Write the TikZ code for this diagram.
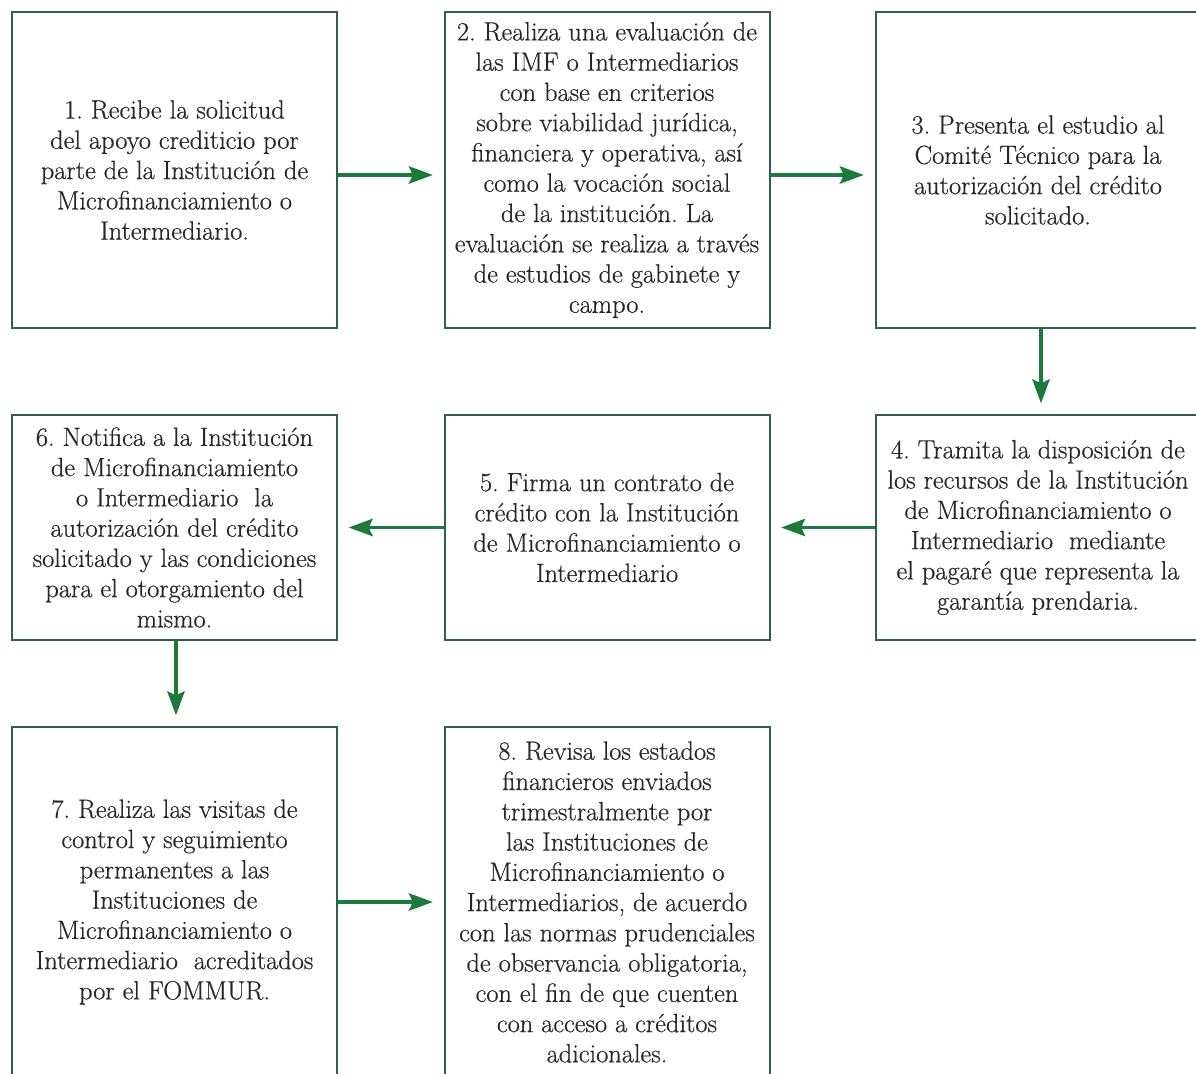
\documentclass[tikz,border=0pt]{standalone}
\usepackage{fontspec}
\setmainfont{Latin Modern Roman}[FakeBold=0.5]
\usetikzlibrary{arrows.meta}
\definecolor{boxc}{HTML}{2F6050}
\definecolor{arrc}{HTML}{1B7A3C}
\definecolor{txtc}{HTML}{262626}
\frenchspacing
\begin{document}
\begin{tikzpicture}[x=0.75pt,y=-0.75pt,
  stepbox/.style={draw=boxc, line width=1.5pt, minimum width=243.75pt, align=center, inner sep=0pt,
    text=txtc, font=\fontsize{19.8}{22.7}\selectfont},
  rowa/.style={minimum height=237pt},
  rowb/.style={minimum height=168.75pt},
  rowc/.style={minimum height=262.5pt},
  flow/.style={draw=arrc, line width=2.4pt, -{Stealth[length=18pt,width=13pt,inset=3pt]}, shorten >=8pt}]
\useasboundingbox (0,0) rectangle (1196,1074);
\fill[white] (0,0) rectangle (1196,1074);
\clip (0,0) rectangle (1196,1074);
\node[stepbox,rowa] (b1) at (174.5,170) {1. Recibe la solicitud\\del apoyo crediticio por\\parte de la Institución de\\Microfinanciamiento o\\Intermediario.};
\node[stepbox,rowa] (b2) at (607,170) {2. Realiza una evaluación de\\las IMF o Intermediarios\\con base en criterios\\sobre viabilidad jurídica,\\financiera y operativa, así\\como la vocación social\\de la institución. La\\evaluación se realiza a través\\de estudios de gabinete y\\campo.};
\node[stepbox,rowa] (b3) at (1038,170) {3. Presenta el estudio al\\Comité Técnico para la\\autorización del crédito\\solicitado.};
\node[stepbox,rowb] (b4) at (1038,527.5) {4. Tramita la disposición de\\los recursos de la Institución\\de Microfinanciamiento o\\Intermediario\ \ mediante\\el pagaré que representa la\\garantía prendaria.};
\node[stepbox,rowb] (b5) at (607,527.5) {5. Firma un contrato de\\crédito con la Institución\\de Microfinanciamiento o\\Intermediario};
\node[stepbox,rowb] (b6) at (174.5,527.5) {6. Notifica a la Institución\\de Microfinanciamiento\\o Intermediario\ \ la\\autorización del crédito\\solicitado y las condiciones\\para el otorgamiento del\\mismo.};
\node[stepbox,rowc] (b7) at (174.5,902) {7. Realiza las visitas de\\control y seguimiento\\permanentes a las\\Instituciones de\\Microfinanciamiento o\\Intermediario\ \ acreditados\\por el FOMMUR.};
\node[stepbox,rowc] (b8) at (607,902) {8. Revisa los estados\\financieros enviados\\trimestralmente por\\las Instituciones de\\Microfinanciamiento o\\Intermediarios, de acuerdo\\con las normas prudenciales\\de observancia obligatoria,\\con el fin de que cuenten\\con acceso a créditos\\adicionales.};
\draw[flow] ([yshift=-3.75pt]b1.east) -- ([yshift=-3.75pt]b2.west);
\draw[flow] ([yshift=-3.75pt]b2.east) -- ([yshift=-3.75pt]b3.west);
\draw[flow] ([xshift=2.25pt]b3.south) -- ([xshift=2.25pt]b4.north);
\draw[flow] (b4.west) -- (b5.east);
\draw[flow] (b5.west) -- (b6.east);
\draw[flow] ([xshift=1.1pt]b6.south) -- ([xshift=1.1pt]b7.north);
\draw[flow] (b7.east) -- (b8.west);
\end{tikzpicture}
\end{document}
